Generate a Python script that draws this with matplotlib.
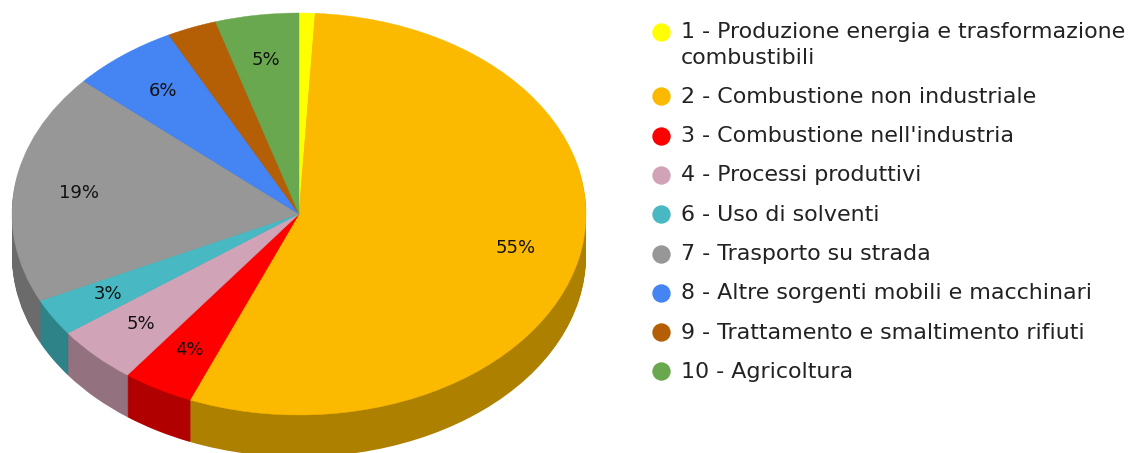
import matplotlib
matplotlib.use("Agg")
import matplotlib.pyplot as plt
import matplotlib.colors as mc

labels = ["1 - Produzione energia e trasformazione\ncombustibili",
          "2 - Combustione non industriale",
          "3 - Combustione nell'industria",
          "4 - Processi produttivi",
          "6 - Uso di solventi",
          "7 - Trasporto su strada",
          "8 - Altre sorgenti mobili e macchinari",
          "9 - Trattamento e smaltimento rifiuti",
          "10 - Agricoltura"]
values = [0.9, 55.3, 4.0, 4.7, 3.0, 18.6, 6.0, 2.8, 4.7]
colors = ["#FFFF00", "#FBB900", "#FF0000", "#D0A4B6", "#48B9C2",
          "#979797", "#4584F3", "#B45F06", "#6AA84F"]

W, H = 1133, 453
FONT = "DejaVu Sans"
TXT = "#222222"
fig = plt.figure(figsize=(W / 100, H / 100), dpi=100, facecolor="white")

# Pie axes: bounding box of the top ellipse (pixels)
L, T, PW, PH = 12, 13, 574, 402
ax = fig.add_axes([L / W, 1 - (T + PH) / H, PW / W, PH / H])
depth_px = 42
side = [tuple(0.69 * c for c in mc.to_rgb(col)) for col in colors]
side[3] = "#94717F"
side[4] = "#2D8387"
side[5] = "#6B6B6B"
for px in range(depth_px, 0, -1):
    w, _ = ax.pie(values, colors=side, startangle=90, counterclock=False,
                  center=(0, -px / (PH / 2)), radius=1, frame=False)
    for p in w:
        p.set_linewidth(0)
        p.set_clip_on(False)

w, _, autotexts = ax.pie(values, colors=colors, startangle=90, counterclock=False,
                         autopct=lambda p: f"{p:.0f}%" if p >= 2.9 else "",
                         pctdistance=0.775, radius=1, frame=False,
                         textprops=dict(fontsize=13, family=FONT, color="#111111"))
for p in w:
    p.set_linewidth(0.3)
    p.set_edgecolor(p.get_facecolor())
    p.set_clip_on(False)
ax.set_aspect("auto")
ax.set_xlim(-1, 1)
ax.set_ylim(-1, 1)
ax.axis("off")

# Legend in pixel coordinates
lg = fig.add_axes([0, 0, 1, 1], facecolor="none")
lg.set_xlim(0, W)
lg.set_ylim(H, 0)
lg.axis("off")
y = 32
for lab, col in zip(labels, colors):
    lg.scatter([661], [y], s=175, color=col, linewidths=0, zorder=3)
    lines = lab.split("\n")
    for j, line in enumerate(lines):
        lg.text(681, y - 1.5 + j * 25.5, line, fontsize=15.95, family=FONT, color=TXT,
                va="center_baseline", ha="left")
    y += 39.3 + (len(lines) - 1) * 25

fig.savefig("out.png", dpi=100)
